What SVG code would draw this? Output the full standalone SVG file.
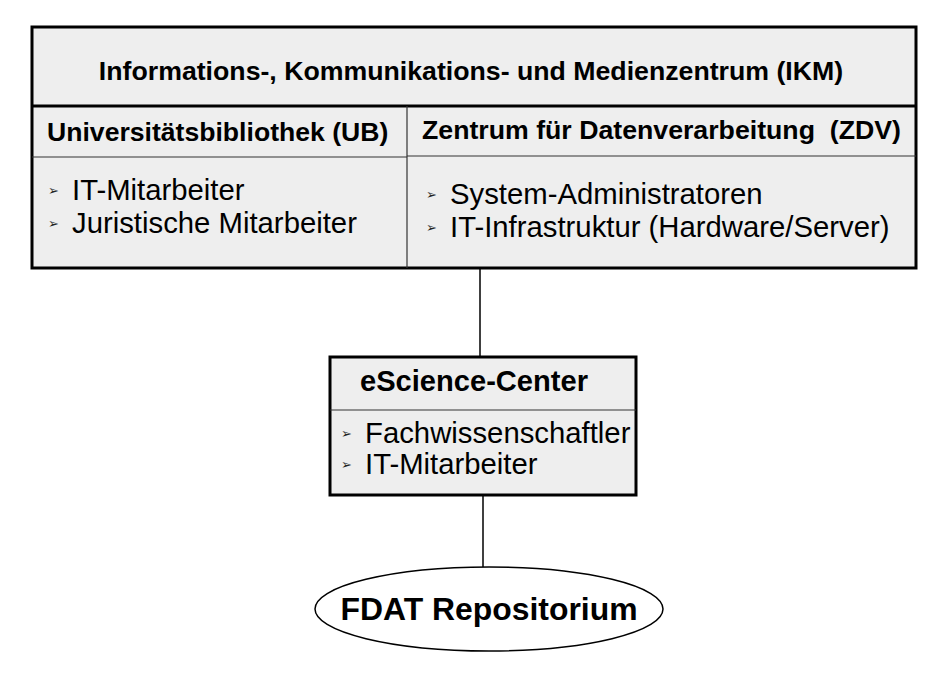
<svg xmlns="http://www.w3.org/2000/svg" width="950" height="674" viewBox="0 0 950 674">
<style>
.box{fill:#eeeeee;stroke:#000;stroke-width:3}
.thin{stroke:#333;stroke-width:1.2;fill:none}
.hb{font-family:"Liberation Sans",Arial,sans-serif;font-weight:bold;fill:#000}
.rg{font-family:"Liberation Sans",Arial,sans-serif;font-size:29.3px;fill:#000}
.bul{font-family:"DejaVu Sans",sans-serif;font-size:13px;fill:#222}
.conn{stroke:#000;stroke-width:1.5;fill:none}
</style>
<rect width="950" height="674" fill="#fff"/>
<g id="connectors">
<line class="conn" x1="480" y1="268" x2="480" y2="357"/>
<line class="conn" x1="483" y1="495" x2="483" y2="567"/>
</g>
<g id="ikm">
<rect class="box" x="32" y="27" width="884" height="241"/>
<line x1="32" y1="106" x2="916" y2="106" stroke="#000" stroke-width="3"/>
<line class="thin" x1="407" y1="106" x2="407" y2="268"/>
<line class="thin" x1="32" y1="157" x2="407" y2="157"/>
<line class="thin" x1="407" y1="156" x2="916" y2="156"/>
<text class="hb" x="471" y="80" font-size="26.7" text-anchor="middle">Informations-, Kommunikations- und Medienzentrum (IKM)</text>
<text class="hb" x="47" y="141" font-size="26.6">Universitätsbibliothek (UB)</text>
<text class="hb" x="422" y="139" font-size="26.7" xml:space="preserve">Zentrum für Datenverarbeitung  (ZDV)</text>
<text class="bul" x="48" y="195">➢</text>
<text class="rg" x="72" y="200">IT-Mitarbeiter</text>
<text class="bul" x="48" y="228">➢</text>
<text class="rg" x="72" y="233">Juristische Mitarbeiter</text>
<text class="bul" x="426" y="199">➢</text>
<text class="rg" x="450" y="204">System-Administratoren</text>
<text class="bul" x="426" y="232">➢</text>
<text class="rg" x="450" y="237">IT-Infrastruktur (Hardware/Server)</text>
</g>
<g id="escience">
<rect class="box" x="330" y="357" width="306" height="138"/>
<line class="thin" x1="330" y1="410" x2="636" y2="410"/>
<text class="hb" x="360" y="391" font-size="29.1">eScience-Center</text>
<text class="bul" x="341" y="438">➢</text>
<text class="rg" x="365" y="443">Fachwissenschaftler</text>
<text class="bul" x="341" y="469">➢</text>
<text class="rg" x="365" y="474">IT-Mitarbeiter</text>
</g>
<g id="fdat">
<ellipse cx="489" cy="609" rx="174" ry="42" fill="#fff" stroke="#000" stroke-width="1.5"/>
<text class="hb" x="489" y="620" font-size="31.9" text-anchor="middle">FDAT Repositorium</text>
</g>
</svg>
